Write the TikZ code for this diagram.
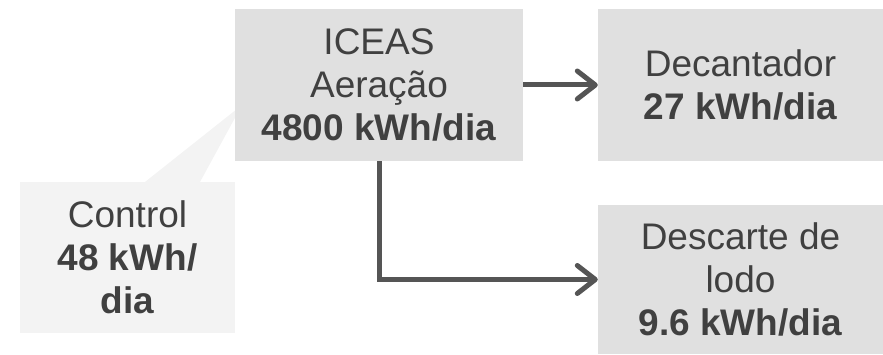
\documentclass[tikz,border=0pt]{standalone}
\usepackage{fontspec}
\setmainfont{Liberation Sans}
\usetikzlibrary{arrows.meta}
\definecolor{boxgray}{HTML}{E0E0E0}
\definecolor{calloutgray}{HTML}{F3F3F3}
\definecolor{txtgray}{HTML}{404040}
\definecolor{linegray}{HTML}{555555}
\tikzset{
  blk/.style={rectangle, fill=boxgray, draw=none, align=center, text=txtgray,
    font=\fontsize{37}{43}\selectfont, inner sep=0pt},
  callout/.style={rectangle, fill=calloutgray, draw=none, align=center, text=txtgray,
    font=\fontsize{37}{43}\selectfont, inner sep=0pt},
  conn/.style={draw=linegray, line width=5pt,
    -{Straight Barb[length=18pt,width=28pt,line cap=round,line join=round]}}
}
\begin{document}
\begin{tikzpicture}[x=1pt,y=1pt]
\useasboundingbox (0,0) rectangle (883,355);
% callout pointer
\coordinate (cpa) at (145,173);
\coordinate (cpb) at (200,173);
\coordinate (cpt) at (242,250);
\fill[calloutgray] (cpa) -- (cpt) -- (cpb) -- cycle;
\node[callout, minimum width=215pt, minimum height=151pt] (ctrl) at (127.5,97.5)
  {Control\\\textbf{48 kWh/}\\\textbf{dia}};
\node[blk, minimum width=288pt, minimum height=152pt] (iceas) at (379,270)
  {ICEAS\\Aeração\\\textbf{4800 kWh/dia}};
\node[blk, minimum width=285pt, minimum height=152pt] (dec) at (740.5,270)
  {Decantador\\\textbf{27 kWh/dia}};
\node[blk, minimum width=285pt, minimum height=149pt] (desc) at (740.5,75.5)
  {Descarte de\\lodo\\\textbf{9.6 kWh/dia}};
\draw[conn] (iceas.east) -- (dec.west);
\draw[conn] (iceas.south) |- (desc.west);
\end{tikzpicture}
\end{document}
